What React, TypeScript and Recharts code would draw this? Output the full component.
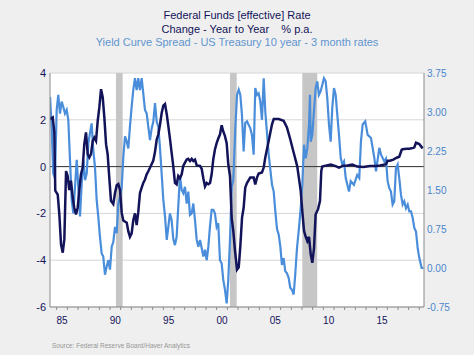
import React from 'react'
import {
  ComposedChart,
  Line,
  XAxis,
  YAxis,
  CartesianGrid,
  ReferenceArea,
  ReferenceLine
} from 'recharts'

// [year, % change y/y]
const fedFundsChange: [number, number][] = [
  [1984.38, 2.03], [1984.63, 2.1], [1984.78, 1.45], [1984.87, -1.03], [1985.10, -1.2],
  [1985.25, -2.04], [1985.41, -3.33], [1985.57, -3.68], [1985.72, -3.1], [1985.88, -0.19],
  [1986.03, -0.4], [1986.18, -1.0], [1986.34, -0.6], [1986.50, -1.3], [1986.65, -1.76],
  [1986.81, -2.05], [1986.97, -1.76], [1987.12, -1.0], [1987.28, -0.33], [1987.44, -0.04],
  [1987.59, 0.96], [1987.75, 1.46], [1987.91, 0.53], [1988.06, 0.39], [1988.22, 0.53],
  [1988.38, 1.1], [1988.53, 1.24], [1988.69, 1.1], [1988.85, 1.96], [1989.00, 2.53],
  [1989.16, 3.31], [1989.32, 2.96], [1989.47, 2.1], [1989.63, 0.96], [1989.78, 0.53],
  [1989.93, -0.45], [1990.09, -1.46], [1990.31, -1.6], [1990.47, -1.13], [1990.63, -0.8],
  [1990.78, -0.75], [1990.94, -1.0], [1991.10, -1.98], [1991.25, -2.3], [1991.57, -2.4],
  [1991.72, -2.77], [1991.87, -3.0], [1992.03, -2.85], [1992.18, -2.3], [1992.34, -2.0],
  [1992.50, -2.5], [1992.65, -1.95], [1992.81, -1.13], [1992.97, -0.9], [1993.12, -0.7],
  [1993.28, -0.55], [1993.44, -0.33], [1993.59, -0.2], [1993.75, -0.05], [1994.06, 0.26],
  [1994.22, 0.63], [1994.38, 1.16], [1994.53, 1.37], [1994.69, 1.8], [1994.85, 2.3],
  [1995.00, 2.6], [1995.16, 2.67], [1995.32, 2.24], [1995.47, 1.73], [1995.63, 1.16],
  [1995.78, 0.59], [1995.93, 0.03], [1996.09, -0.7], [1996.25, -0.76], [1996.40, -0.4],
  [1996.56, -0.5], [1996.72, -0.33], [1996.87, 0.03], [1997.03, 0.17], [1997.19, 0.3],
  [1997.34, 0.33], [1997.50, 0.24], [1997.66, 0.33], [1997.81, 0.24], [1997.97, 0.3],
  [1998.13, 0.05], [1998.44, 0.03], [1998.60, -0.1], [1998.75, -0.5], [1998.91, -0.85],
  [1999.07, -0.7], [1999.22, -0.75], [1999.38, -0.7], [1999.53, -0.33], [1999.68, 0.3],
  [1999.84, 0.73], [2000.00, 1.0], [2000.15, 1.2], [2000.31, 1.37], [2000.47, 1.77],
  [2000.62, 1.5], [2000.78, 1.3], [2000.94, 1.0], [2001.09, 0.1], [2001.25, -0.4],
  [2001.41, -2.2], [2001.56, -2.75], [2001.72, -3.6], [2001.91, -4.4], [2002.07, -4.3],
  [2002.22, -3.4], [2002.38, -2.18], [2002.53, -1.76], [2002.68, -0.9], [2002.84, -0.7],
  [2003.15, -0.47], [2003.47, -0.47], [2003.62, -0.76], [2003.78, -0.47], [2003.94, -0.3],
  [2004.25, -0.25], [2004.41, -0.04], [2004.56, 0.39], [2004.88, 1.1], [2005.19, 1.81],
  [2005.35, 2.03], [2005.82, 2.03], [2006.28, 1.96], [2006.59, 1.67], [2006.90, 1.17],
  [2007.22, 0.6], [2007.56, 0.0], [2007.88, -1.04], [2008.03, -1.9], [2008.19, -2.75],
  [2008.35, -3.0], [2008.50, -3.18], [2008.66, -3.0], [2008.82, -3.75], [2008.97, -4.11],
  [2009.13, -3.47], [2009.28, -2.04], [2009.50, -1.83], [2009.69, -1.46], [2009.81, -0.19],
  [2009.90, 0.0], [2010.22, 0.04], [2010.69, 0.09], [2011.16, 0.02], [2011.47, -0.04],
  [2011.87, 0.04], [2012.25, 0.05], [2012.72, 0.09], [2013.18, 0.0], [2013.75, -0.02],
  [2014.38, 0.03], [2014.94, 0.03], [2015.31, 0.05], [2015.88, 0.1], [2016.03, 0.25],
  [2016.25, 0.25], [2016.56, 0.3], [2016.88, 0.38], [2017.12, 0.42], [2017.35, 0.72],
  [2017.44, 0.74], [2017.82, 0.76], [2018.06, 0.76], [2018.44, 0.8], [2018.53, 0.82],
  [2018.69, 1.02], [2019.00, 0.96], [2019.32, 0.78]
]

// [year, 10y - 3m spread] (right axis)
const yieldSpread: [number, number][] = [
  [1984.38, 3.29], [1984.53, 2.72], [1984.68, 1.82], [1984.84, 1.73], [1985.00, 3.04],
  [1985.15, 3.33], [1985.31, 2.97], [1985.47, 3.2], [1985.62, 3.1], [1985.78, 2.97],
  [1985.94, 3.04], [1986.09, 2.85], [1986.25, 2.08], [1986.41, 1.31], [1986.56, 1.05],
  [1986.72, 1.56], [1986.88, 2.08], [1987.03, 1.56], [1987.19, 0.99], [1987.35, 1.63],
  [1987.50, 2.08], [1987.66, 1.69], [1987.82, 1.82], [1987.97, 2.4], [1988.12, 2.59],
  [1988.28, 2.78], [1988.43, 2.27], [1988.59, 1.95], [1988.75, 1.31], [1988.90, 0.99],
  [1989.06, 0.6], [1989.22, 0.28], [1989.37, 0.22], [1989.53, -0.13], [1989.69, 0.03],
  [1989.84, 0.15], [1990.00, -0.03], [1990.16, 0.41], [1990.31, 0.5], [1990.47, 0.79],
  [1990.63, 0.67], [1990.78, 1.24], [1990.94, 1.37], [1991.10, 1.56], [1991.25, 2.14],
  [1991.41, 2.53], [1991.57, 2.43], [1991.72, 2.3], [1991.87, 2.72], [1992.03, 3.1],
  [1992.18, 3.42], [1992.34, 3.65], [1992.50, 3.42], [1992.65, 3.65], [1992.81, 3.42],
  [1992.97, 3.65], [1993.12, 3.36], [1993.28, 3.04], [1993.44, 2.97], [1993.59, 2.72],
  [1993.75, 2.46], [1993.91, 2.69], [1994.06, 2.81], [1994.22, 3.17], [1994.38, 2.81],
  [1994.53, 2.72], [1994.69, 2.3], [1994.85, 1.79], [1995.00, 1.31], [1995.16, 0.99],
  [1995.32, 0.54], [1995.47, 0.79], [1995.62, 1.05], [1995.78, 0.92], [1995.93, 0.56],
  [1996.09, 0.44], [1996.25, 0.6], [1996.40, 1.18], [1996.56, 1.76], [1996.72, 1.5],
  [1996.87, 1.44], [1997.03, 1.56], [1997.19, 1.24], [1997.34, 1.47], [1997.50, 1.02],
  [1997.66, 1.05], [1997.81, 1.24], [1997.97, 0.92], [1998.13, 0.54], [1998.28, 0.41],
  [1998.44, 0.54], [1998.60, 0.38], [1998.75, 0.22], [1998.91, 0.35], [1999.07, 0.15],
  [1999.22, 0.41], [1999.37, 0.79], [1999.53, 1.12], [1999.68, 1.12], [1999.84, 1.05],
  [2000.00, 0.79], [2000.15, 0.86], [2000.31, 0.15], [2000.47, 0.09], [2000.62, -0.23],
  [2000.78, -0.42], [2000.94, -0.68], [2001.09, -0.23], [2001.25, 0.54], [2001.41, 1.56],
  [2001.56, 1.69], [2001.75, 2.69], [2001.91, 3.33], [2002.07, 3.43], [2002.22, 3.33],
  [2002.37, 2.95], [2002.53, 2.24], [2002.68, 2.79], [2002.84, 2.82], [2003.15, 2.69],
  [2003.31, 2.56], [2003.47, 2.18], [2003.62, 3.46], [2003.78, 3.33], [2003.94, 3.36],
  [2004.09, 3.2], [2004.25, 2.85], [2004.41, 3.65], [2004.56, 3.01], [2004.88, 2.18],
  [2005.19, 1.6], [2005.35, 1.47], [2005.50, 1.09], [2005.66, 0.75], [2005.82, 0.64],
  [2005.97, 0.41], [2006.12, 0.06], [2006.28, 0.19], [2006.43, -0.06], [2006.59, -0.1],
  [2006.75, -0.19], [2006.90, -0.38], [2007.06, -0.42], [2007.22, -0.51], [2007.37, -0.12],
  [2007.53, 0.38], [2007.72, 0.77], [2007.88, 1.15], [2008.03, 1.6], [2008.19, 2.37],
  [2008.35, 2.11], [2008.50, 2.3], [2008.66, 2.76], [2008.75, 3.33], [2008.82, 2.43],
  [2008.97, 2.56], [2009.12, 3.01], [2009.28, 3.46], [2009.43, 3.59], [2009.59, 3.33],
  [2009.75, 3.4], [2009.90, 3.52], [2010.06, 3.65], [2010.22, 3.59], [2010.37, 3.27],
  [2010.53, 2.76], [2010.69, 2.43], [2010.84, 3.08], [2011.00, 3.46], [2011.16, 3.33],
  [2011.31, 2.95], [2011.47, 2.56], [2011.63, 2.12], [2011.78, 1.99], [2011.94, 2.05],
  [2012.10, 1.73], [2012.41, 1.47], [2012.57, 1.67], [2012.87, 1.6], [2013.18, 1.79],
  [2013.37, 1.73], [2013.53, 2.44], [2013.69, 2.76], [2013.93, 2.82], [2014.16, 2.56],
  [2014.47, 2.5], [2014.78, 2.12], [2014.94, 1.86], [2015.25, 2.31], [2015.41, 2.18],
  [2015.72, 2.05], [2015.87, 2.1], [2016.03, 1.67], [2016.18, 1.54], [2016.34, 1.47],
  [2016.50, 1.22], [2016.65, 1.28], [2016.81, 1.92], [2016.97, 1.99], [2017.12, 1.73],
  [2017.28, 1.41], [2017.44, 1.22], [2017.59, 1.28], [2017.75, 1.15], [2017.91, 1.22],
  [2018.06, 1.09], [2018.22, 1.09], [2018.38, 0.96], [2018.53, 0.77], [2018.69, 0.7],
  [2018.85, 0.38], [2019.00, 0.19], [2019.22, 0.0], [2019.39, 0.0]
]

// shaded recession periods (start, end)
const recessions: [number, number][] = [
  [1990.56, 1991.19],
  [2001.25, 2001.88],
  [2008.03, 2009.43]
]

const leftTicks = [-6, -4, -2, 0, 2, 4]
const rightTicks = [-0.75, 0, 0.75, 1.5, 2.25, 3, 3.75]
const labelYears = [1985, 1990, 1995, 2000, 2005, 2010, 2015]
const yearLabels = ['85', '90', '95', '00', '05', '10', '15']

const NAVY = '#13135a'
const LIGHT = '#4a8edb'
const AXIS = '#8a8a8a'

// one row per date, both series merged; gaps are bridged with connectNulls
const rowMap = new Map<number, { year: number; fed?: number; spread?: number }>()
fedFundsChange.forEach(([year, v]) => {
  rowMap.set(year, { ...(rowMap.get(year) || { year }), fed: v })
})
yieldSpread.forEach(([year, v]) => {
  rowMap.set(year, { ...(rowMap.get(year) || { year }), spread: v })
})
const tableData = Array.from(rowMap.values()).sort((a, b) => a.year - b.year)

// year boundaries get a small tick mark, mid-years carry the label
const xTicks: number[] = []
for (let y = 1985; y <= 2019; y++) xTicks.push(y)
labelYears.forEach((y) => xTicks.push(y + 0.5))
xTicks.sort((a, b) => a - b)

function YearTick(props: any) {
  const { x, y, payload } = props
  const idx = labelYears.indexOf(payload.value - 0.5)
  if (idx >= 0) {
    return (
      <text x={x} y={y + 17} textAnchor="middle" fontSize={10} fill={NAVY}>
        {yearLabels[idx]}
      </text>
    )
  }
  return <line x1={x} x2={x} y1={y} y2={y + 3} stroke={AXIS} />
}

export default function App() {
  return (
    <div
      style={{
        position: 'absolute',
        left: 0,
        top: 0,
        width: 474,
        height: 355,
        background: '#efefef',
        fontFamily: '"Liberation Sans", Arial, sans-serif'
      }}
    >
      <div style={{ position: 'absolute', top: 9, left: 0, width: 474, textAlign: 'center', fontSize: 11, lineHeight: '13.5px' }}>
        <div style={{ color: NAVY }}>Federal Funds [effective] Rate</div>
        <div style={{ color: NAVY, whiteSpace: 'pre' }}>Change - Year to Year    % p.a.</div>
        <div style={{ color: '#5f95cf' }}>Yield Curve Spread - US Treasury 10 year - 3 month rates</div>
      </div>

      <ComposedChart
        width={474}
        height={355}
        data={tableData}
        margin={{ top: 73, right: 0, bottom: 18, left: 0 }}
      >
        <CartesianGrid
          yAxisId="left"
          vertical={false}
          stroke="#d6d6d6"
          fill="#ffffff"
          horizontalValues={leftTicks}
        />
        {recessions.map(([a, b]) => (
          <ReferenceArea
            key={a}
            yAxisId="left"
            x1={a}
            x2={b}
            fill="#c6c6c6"
            fillOpacity={1}
            stroke="none"
          />
        ))}
        <XAxis
          dataKey="year"
          type="number"
          domain={[1984.375, 2019.44]}
          allowDataOverflow
          ticks={xTicks}
          interval={0}
          tickLine={false}
          tickSize={0}
          tickMargin={0}
          height={30}
          stroke={AXIS}
          tick={<YearTick />}
        />
        <YAxis
          yAxisId="left"
          orientation="left"
          width={50}
          domain={[-6, 4]}
          ticks={leftTicks}
          tickLine={false}
          tickSize={0}
          tickMargin={4}
          stroke={AXIS}
          tick={{ fill: NAVY, fontSize: 11 }}
        />
        <YAxis
          yAxisId="right"
          orientation="right"
          width={50}
          domain={[-0.75, 3.75]}
          ticks={rightTicks}
          tickFormatter={(v: number) => v.toFixed(2)}
          tickLine={false}
          tickSize={0}
          tickMargin={3}
          stroke={AXIS}
          tick={{ fill: '#4a86cc', fontSize: 10 }}
        />
        <ReferenceLine yAxisId="left" y={0} stroke="#333333" strokeWidth={1} />
        <Line
          yAxisId="right"
          dataKey="spread"
          type="linear"
          stroke={LIGHT}
          strokeWidth={2.2}
          dot={false}
          connectNulls
          isAnimationActive={false}
        />
        <Line
          yAxisId="left"
          dataKey="fed"
          type="linear"
          stroke={NAVY}
          strokeWidth={2.5}
          dot={false}
          connectNulls
          isAnimationActive={false}
        />
      </ComposedChart>

      <div style={{ position: 'absolute', left: 52, top: 342, fontSize: 6.5, color: '#969696' }}>
        Source:  Federal Reserve Board/Haver Analytics
      </div>
    </div>
  )
}
